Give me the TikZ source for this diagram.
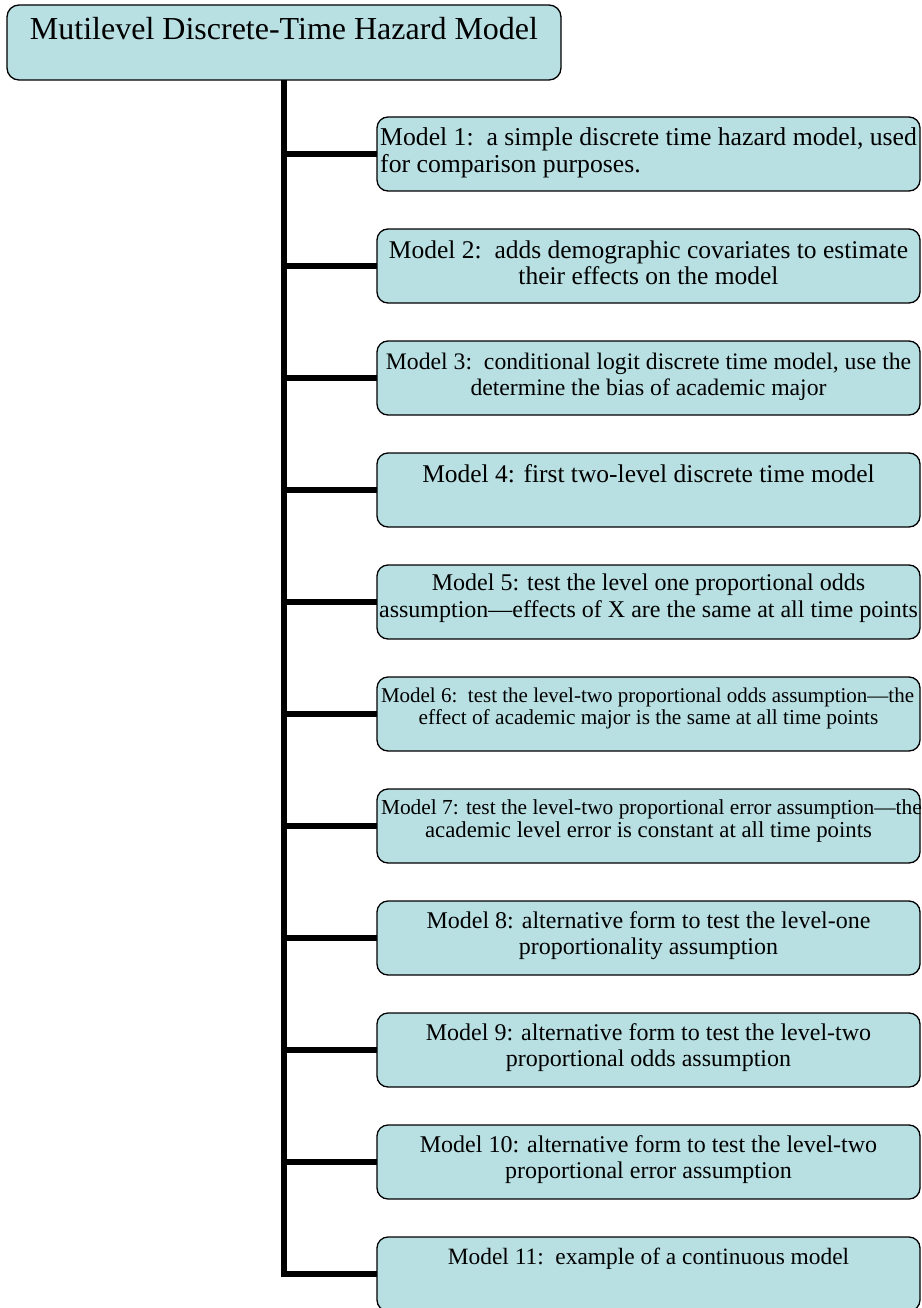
\documentclass[tikz,border=0pt]{standalone}
\usepackage{fontspec}
\setmainfont{Liberation Serif}
\usetikzlibrary{backgrounds}
\definecolor{boxfill}{RGB}{184,223,226}
\begin{document}
\begin{tikzpicture}[x=1pt,y=-1pt,
  mbox/.style={draw=black, line width=1.3pt, fill=boxfill, rounded corners=11pt,
    minimum width=543pt, minimum height=74pt, inner sep=0pt, outer sep=0pt},
  rootbox/.style={draw=black, line width=1.3pt, fill=boxfill, rounded corners=12pt,
    minimum width=554pt, minimum height=75pt, inner sep=0pt, outer sep=0pt},
  txt/.style={inner sep=0pt, align=center, anchor=base},
  link/.style={line width=5.5pt}]
\useasboundingbox (0,0) rectangle (921,1308);
% root
\node[rootbox] (root) at (284,42.5) {};
\node[txt, font=\fontsize{32}{34}\selectfont] (troot) at (284,40) {Mutilevel Discrete-Time Hazard Model};
% model boxes
\node[mbox] (m1) at (648.5,154) {};
\node[mbox] (m2) at (648.5,266) {};
\node[mbox] (m3) at (648.5,378) {};
\node[mbox] (m4) at (648.5,490) {};
\node[mbox] (m5) at (648.5,602) {};
\node[mbox] (m6) at (648.5,714) {};
\node[mbox] (m7) at (648.5,826) {};
\node[mbox] (m8) at (648.5,938) {};
\node[mbox] (m9) at (648.5,1050) {};
\node[mbox] (m10) at (648.5,1162) {};
\node[mbox] (m11) at (648.5,1274) {};
% texts (base anchor = baseline of the last line)
\node[txt, align=left, anchor=base west, font=\fontsize{25.7}{26}\selectfont] (t1) at (380,172)
  {Model 1:\ \ a simple discrete time hazard model, used\\for comparison purposes.};
\node[txt, font=\fontsize{25.5}{26}\selectfont] (t2) at (648.5,284)
  {Model 2:\ \ adds demographic covariates to estimate\\their effects on the model};
\node[txt, font=\fontsize{23.7}{26}\selectfont] (t3) at (648.5,395)
  {Model 3:\ \ conditional logit discrete time model, use the\\determine the bias of academic major};
\node[txt, font=\fontsize{25.5}{26}\selectfont] (t4) at (648.5,482)
  {Model 4: first two-level discrete time model};
\node[txt, font=\fontsize{24}{27}\selectfont] (t5) at (648.5,617)
  {Model 5: test the level one proportional odds\\assumption—effects of X are the same at all time points};
\node[txt, font=\fontsize{21.3}{22}\selectfont] (t6) at (648.5,724)
  {\makebox[535pt][l]{\fontsize{21}{22}\selectfont Model 6:\ \ test the level-two proportional odds assumption—the}\\effect of academic major is the same at all time points};
\node[txt, font=\fontsize{22.8}{23}\selectfont] (t7) at (648.5,837)
  {\makebox[535pt][l]{\fontsize{21.4}{23}\selectfont Model 7: test the level-two proportional error assumption—the}\\academic level error is constant at all time points};
\node[txt, font=\fontsize{24}{26}\selectfont] (t8) at (648.5,954)
  {Model 8: alternative form to test the level-one\\proportionality assumption};
\node[txt, font=\fontsize{24}{26}\selectfont] (t9) at (648.5,1066)
  {Model 9: alternative form to test the level-two\\proportional odds assumption};
\node[txt, font=\fontsize{24}{26}\selectfont] (t10) at (648.5,1178)
  {Model 10: alternative form to test the level-two\\proportional error assumption};
\node[txt, font=\fontsize{23.4}{26}\selectfont] (t11) at (648.5,1264)
  {Model 11:\ \ example of a continuous model};
% connectors
\begin{scope}[on background layer]
  \draw[link] (root.south) |- (m11.west);
  \foreach \m in {m1,m2,m3,m4,m5,m6,m7,m8,m9,m10}
    \draw[link] (root.south |- \m.west) -- (\m.west);
\end{scope}
\end{tikzpicture}
\end{document}
